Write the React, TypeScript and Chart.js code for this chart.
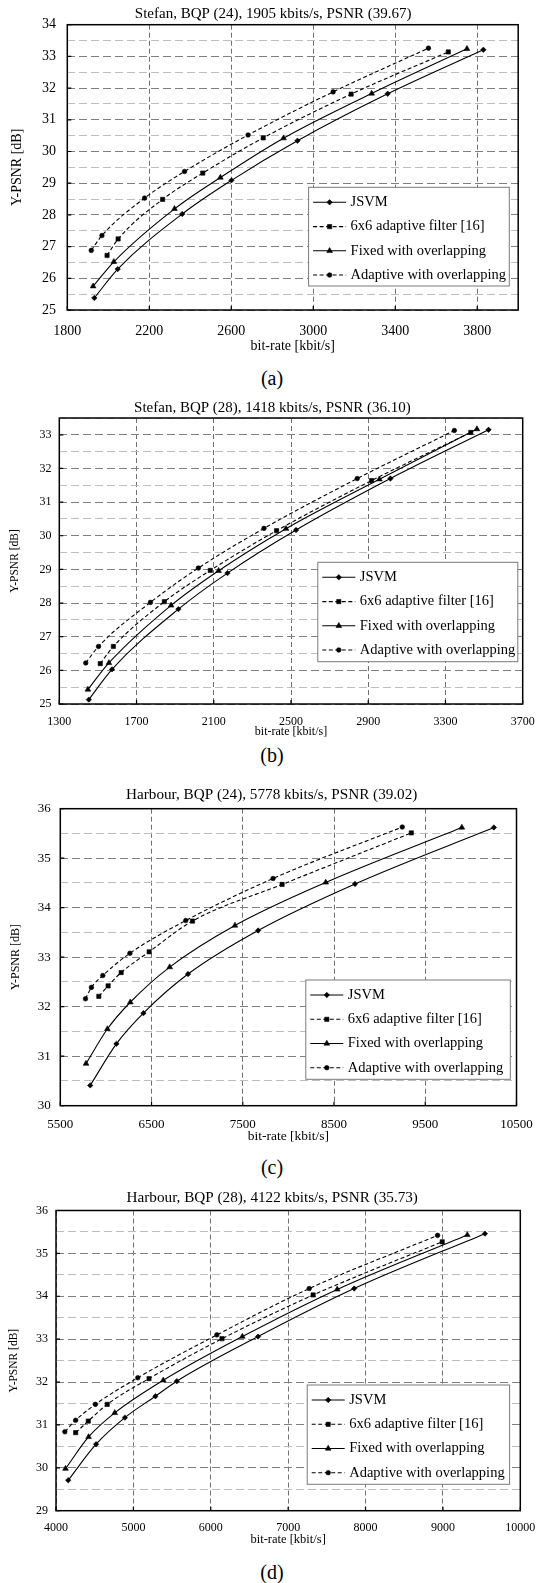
import React, { useEffect, useRef } from 'react';
import { Chart, registerables } from 'chart.js';

Chart.register(...registerables);

const SERIF = "'Liberation Serif', 'Times New Roman', Times, serif";
Chart.defaults.font.family = SERIF;
Chart.defaults.color = '#000';

const SERIES_NAMES = ['JSVM', '6x6 adaptive filter [16]', 'Fixed with overlapping', 'Adaptive with overlapping'];
const X_TITLE = 'bit-rate [kbit/s]';
const Y_TITLE = 'Y-PSNR [dB]';

// ---------- (a) Stefan, BQP 24 ----------
const A_TITLE = 'Stefan, BQP (24), 1905 kbits/s, PSNR (39.67)';
const A_X_TICKS = [1800, 2200, 2600, 3000, 3400, 3800];
const A_JSVM_RATE = [1932, 2046, 2361, 2601, 2923, 3363, 3830];
const A_JSVM_PSNR = [25.38, 26.29, 28.03, 29.09, 30.34, 31.82, 33.21];
const A_AF_RATE = [1994, 2048, 2265, 2461, 2756, 3185, 3659];
const A_AF_PSNR = [26.72, 27.24, 28.49, 29.32, 30.43, 31.81, 33.14];
const A_FO_RATE = [1926, 2027, 2323, 2547, 2855, 3285, 3750];
const A_FO_PSNR = [25.75, 26.52, 28.19, 29.18, 30.42, 31.83, 33.24];
const A_AO_RATE = [1917, 1969, 2177, 2372, 2682, 3097, 3562];
const A_AO_PSNR = [26.88, 27.35, 28.53, 29.37, 30.52, 31.88, 33.26];

// ---------- (b) Stefan, BQP 28 ----------
const B_TITLE = 'Stefan, BQP (28), 1418 kbits/s, PSNR (36.10)';
const B_X_TICKS = [1300, 1700, 2100, 2500, 2900, 3300, 3700];
const B_JSVM_RATE = [1453, 1573, 1917, 2171, 2526, 3015, 3523];
const B_JSVM_PSNR = [25.13, 26.03, 27.82, 28.89, 30.17, 31.7, 33.15];
const B_AF_RATE = [1512, 1580, 1844, 2082, 2425, 2917, 3431];
const B_AF_PSNR = [26.2, 26.71, 28.04, 28.97, 30.15, 31.64, 33.07];
const B_FO_RATE = [1448, 1557, 1879, 2125, 2474, 2958, 3463];
const B_FO_PSNR = [25.43, 26.22, 27.93, 28.96, 30.21, 31.68, 33.17];
const B_AO_RATE = [1437, 1503, 1772, 2020, 2360, 2843, 3346];
const B_AO_PSNR = [26.22, 26.71, 28.02, 29.04, 30.22, 31.7, 33.13];

// ---------- (c) Harbour, BQP 24 ----------
const C_TITLE = 'Harbour, BQP (24), 5778 kbits/s, PSNR (39.02)';
const C_X_TICKS = [5500, 6500, 7500, 8500, 9500, 10500];
const C_JSVM_RATE = [5828, 6115, 6411, 6900, 7668, 8730, 10252];
const C_JSVM_PSNR = [30.41, 31.25, 31.87, 32.66, 33.54, 34.48, 35.62];
const C_AF_RATE = [5922, 6024, 6167, 6474, 6949, 7931, 9347];
const C_AF_PSNR = [32.21, 32.42, 32.69, 33.11, 33.73, 34.47, 35.51];
const C_FO_RATE = [5782, 6016, 6267, 6699, 7414, 8409, 9901];
const C_FO_PSNR = [30.85, 31.55, 32.09, 32.8, 33.64, 34.51, 35.62];
const C_AO_RATE = [5776, 5841, 5966, 6263, 6875, 7832, 9248];
const C_AO_PSNR = [32.16, 32.39, 32.63, 33.08, 33.74, 34.59, 35.63];

// ---------- (d) Harbour, BQP 28 ----------
const D_TITLE = 'Harbour, BQP (28), 4122 kbits/s, PSNR (35.73)';
const D_X_TICKS = [4000, 5000, 6000, 7000, 8000, 9000, 10000];
const D_JSVM_RATE = [4158, 4518, 4890, 5285, 5561, 6611, 7853, 9543];
const D_JSVM_PSNR = [29.71, 30.55, 31.17, 31.67, 32.02, 33.06, 34.18, 35.46];
const D_AF_RATE = [4254, 4417, 4662, 5202, 6145, 7323, 8991];
const D_AF_PSNR = [30.82, 31.09, 31.48, 32.08, 33.01, 34.03, 35.27];
const D_FO_RATE = [4123, 4421, 4759, 5386, 6408, 7634, 9315];
const D_FO_PSNR = [29.98, 30.72, 31.28, 32.04, 33.06, 34.16, 35.43];
const D_AO_RATE = [4114, 4254, 4509, 5057, 6079, 7272, 8931];
const D_AO_PSNR = [30.84, 31.11, 31.48, 32.1, 33.1, 34.18, 35.42];

const STYLES = [
  { pointStyle: 'rectRot', radius: 2.7, dash: [] as number[] },
  { pointStyle: 'rect', radius: 3, dash: [4, 2.5] },
  { pointStyle: 'triangle', radius: 3.3, dash: [] as number[] },
  { pointStyle: 'circle', radius: 2.3, dash: [4, 2.5] },
];

const LEGEND_ROWS = [15, 39.3, 63.5, 87.7];
const LEGEND_SAMPLE = [4.5, 37.5];
const LEGEND_TEXT_X = 42;
const PAGE_W = 537;

function drawMarker(ctx: CanvasRenderingContext2D, style: string, x: number, y: number, r: number) {
  ctx.beginPath();
  if (style === 'circle') {
    ctx.arc(x, y, r, 0, Math.PI * 2);
  } else if (style === 'rect') {
    const s = r * Math.SQRT1_2;
    ctx.rect(x - s, y - s, 2 * s, 2 * s);
  } else if (style === 'rectRot') {
    ctx.moveTo(x, y - r);
    ctx.lineTo(x + r, y);
    ctx.lineTo(x, y + r);
    ctx.lineTo(x - r, y);
    ctx.closePath();
  } else {
    const a = (2 * Math.PI) / 3;
    ctx.moveTo(x, y - r);
    ctx.lineTo(x + r * Math.sin(a), y - r * Math.cos(a));
    ctx.lineTo(x + r * Math.sin(2 * a), y - r * Math.cos(2 * a));
    ctx.closePath();
  }
  ctx.fill();
  ctx.stroke();
}

const framePlugin = {
  id: 'frame',
  beforeDatasetsDraw(chart: any, _args: any, opts: any) {
    const { ctx, chartArea: a, scales } = chart;
    ctx.save();
    ctx.setLineDash([]);
    ctx.strokeStyle = '#000';
    ctx.lineWidth = 1.2;
    ctx.beginPath();
    for (const v of opts.xTicks as number[]) {
      const px = scales.x.getPixelForValue(v);
      ctx.moveTo(px, a.bottom);
      ctx.lineTo(px, a.bottom - 4);
    }
    for (const t of scales.y.ticks) {
      if (Number.isInteger(t.value)) {
        const py = scales.y.getPixelForValue(t.value);
        ctx.moveTo(a.left, py);
        ctx.lineTo(a.left + 4, py);
      }
    }
    ctx.stroke();
    ctx.lineWidth = 1.5;
    ctx.strokeRect(a.left, a.top, a.right - a.left, a.bottom - a.top);
    ctx.restore();
  },
};

const legendBoxPlugin = {
  id: 'legendBox',
  afterDatasetsDraw(chart: any, _args: any, o: any) {
    const ctx: CanvasRenderingContext2D = chart.ctx;
    ctx.save();
    ctx.setLineDash([]);
    ctx.fillStyle = '#fff';
    ctx.fillRect(o.x, o.y, o.w, o.h);
    ctx.strokeStyle = '#7a7a7a';
    ctx.lineWidth = 1;
    ctx.strokeRect(o.x, o.y, o.w, o.h);
    chart.data.datasets.forEach((ds: any, i: number) => {
      const y = o.y + LEGEND_ROWS[i];
      ctx.strokeStyle = '#000';
      ctx.lineWidth = ds.borderWidth;
      ctx.setLineDash(ds.borderDash || []);
      ctx.beginPath();
      ctx.moveTo(o.x + LEGEND_SAMPLE[0], y);
      ctx.lineTo(o.x + LEGEND_SAMPLE[1], y);
      ctx.stroke();
      ctx.setLineDash([]);
      ctx.fillStyle = '#000';
      ctx.lineWidth = ds.pointBorderWidth;
      drawMarker(ctx, ds.pointStyle, o.x + (LEGEND_SAMPLE[0] + LEGEND_SAMPLE[1]) / 2, y, ds.pointRadius);
      ctx.font = `${o.font}px ${SERIF}`;
      ctx.textAlign = 'left';
      ctx.textBaseline = 'middle';
      ctx.fillText(ds.label, o.x + LEGEND_TEXT_X, y);
    });
    ctx.restore();
  },
};

type Layout = {
  canvasTop: number; chartTop: number; chartBottom: number; chartLeft: number; chartRight: number;
  titleCenterY: number; titleFont: number; padL: number;
  yTitleFont: number; yTitlePad: number; yTickFont: number; yTickLen: number;
  xTickFont: number; xTickLen: number; xTitleFont: number; xTitleCenterY: number;
  legend: { x: number; y: number; w: number; h: number };
  captionY: number;
};

type Spec = {
  title: string; caption: string;
  rates: number[][]; psnrs: number[][];
  xMin: number; xMax: number; xTicks: number[];
  yMin: number; yMax: number;
  L: Layout;
};

const SPECS: Spec[] = [
  {
    title: A_TITLE, caption: '(a)',
    rates: [A_JSVM_RATE, A_AF_RATE, A_FO_RATE, A_AO_RATE],
    psnrs: [A_JSVM_PSNR, A_AF_PSNR, A_FO_PSNR, A_AO_PSNR],
    xMin: 1800, xMax: 4000, xTicks: A_X_TICKS, yMin: 25, yMax: 34,
    L: {
      canvasTop: 0, chartTop: 24.7, chartBottom: 310, chartLeft: 67.3, chartRight: 518.2,
      titleCenterY: 14.5, titleFont: 15, padL: 9.3,
      yTitleFont: 14, yTitlePad: 0, yTickFont: 14, yTickLen: 11.3,
      xTickFont: 14, xTickLen: 13.3, xTitleFont: 14, xTitleCenterY: 346,
      legend: { x: 308.6, y: 187.3, w: 200.7, h: 98.7 }, captionY: 378,
    },
  },
  {
    title: B_TITLE, caption: '(b)',
    rates: [B_JSVM_RATE, B_AF_RATE, B_FO_RATE, B_AO_RATE],
    psnrs: [B_JSVM_PSNR, B_AF_PSNR, B_FO_PSNR, B_AO_PSNR],
    xMin: 1300, xMax: 3700, xTicks: B_X_TICKS, yMin: 25, yMax: 33.5,
    L: {
      canvasTop: 393, chartTop: 418, chartBottom: 704, chartLeft: 59.3, chartRight: 522.7,
      titleCenterY: 408.3, titleFont: 15, padL: 7.8,
      yTitleFont: 11.5, yTitlePad: 0.7, yTickFont: 12, yTickLen: 7.9,
      xTickFont: 12, xTickLen: 10.5, xTitleFont: 12, xTitleCenterY: 731.7,
      legend: { x: 317.8, y: 169.3, w: 200, h: 99.4 }, captionY: 755,
    },
  },
  {
    title: C_TITLE, caption: '(c)',
    rates: [C_JSVM_RATE, C_AF_RATE, C_FO_RATE, C_AO_RATE],
    psnrs: [C_JSVM_PSNR, C_AF_PSNR, C_FO_PSNR, C_AO_PSNR],
    xMin: 5500, xMax: 10500, xTicks: C_X_TICKS, yMin: 30, yMax: 36,
    L: {
      canvasTop: 775, chartTop: 808.7, chartBottom: 1105.7, chartLeft: 60.3, chartRight: 516.5,
      titleCenterY: 795, titleFont: 15.2, padL: 6.4,
      yTitleFont: 12, yTitlePad: 1.8, yTickFont: 13, yTickLen: 9.6,
      xTickFont: 13, xTickLen: 11.5, xTitleFont: 13.5, xTitleCenterY: 1136.7,
      legend: { x: 305.8, y: 205, w: 204.5, h: 99.3 }, captionY: 1166.7,
    },
  },
  {
    title: D_TITLE, caption: '(d)',
    rates: [D_JSVM_RATE, D_AF_RATE, D_FO_RATE, D_AO_RATE],
    psnrs: [D_JSVM_PSNR, D_AF_PSNR, D_FO_PSNR, D_AO_PSNR],
    xMin: 4000, xMax: 10000, xTicks: D_X_TICKS, yMin: 29, yMax: 36,
    L: {
      canvasTop: 1180, chartTop: 1210.5, chartBottom: 1510.7, chartLeft: 56, chartRight: 520.3,
      titleCenterY: 1198.3, titleFont: 15.2, padL: 7.5,
      yTitleFont: 11.5, yTitlePad: 0, yTickFont: 12, yTickLen: 8,
      xTickFont: 12, xTickLen: 10.4, xTitleFont: 12.5, xTitleCenterY: 1540,
      legend: { x: 307.2, y: 205, w: 202.4, h: 99.3 }, captionY: 1571.7,
    },
  },
];

function geometry(L: Layout) {
  const lhT = L.titleFont * 1.2;
  const pt = L.titleCenterY - L.canvasTop - lhT / 2;
  const pb = L.chartTop - L.canvasTop - pt - lhT;
  const xAxisH = L.xTitleCenterY + (L.xTitleFont * 1.2) / 2 - L.chartBottom;
  const H = Math.ceil(L.chartBottom + xAxisH - L.canvasTop);
  const padB = L.canvasTop + H - (L.chartBottom + xAxisH);
  return { pt, pb, xAxisH, H, padB };
}

function buildConfig(s: Spec): any {
  const L = s.L;
  const g = geometry(L);
  return {
    type: 'scatter',
    data: {
      datasets: SERIES_NAMES.map((name, i) => ({
        label: name,
        data: s.rates[i].map((x, k) => ({ x, y: s.psnrs[i][k] })),
        showLine: true,
        xAxisID: 'x',
        yAxisID: 'y',
        borderColor: '#000',
        backgroundColor: '#000',
        borderWidth: 1.1,
        borderDash: STYLES[i].dash,
        pointStyle: STYLES[i].pointStyle,
        pointRadius: STYLES[i].radius,
        pointHoverRadius: STYLES[i].radius,
        pointBackgroundColor: '#000',
        pointBorderColor: '#000',
        pointBorderWidth: 0.6,
        cubicInterpolationMode: 'monotone',
      })),
    },
    options: {
      responsive: false,
      animation: false,
      events: [],
      layout: { padding: { left: L.padL, right: 0, top: 0, bottom: g.padB } },
      plugins: {
        legend: { display: false },
        tooltip: { enabled: false },
        title: {
          display: true,
          text: s.title,
          color: '#000',
          font: { family: SERIF, size: L.titleFont, weight: 'normal', lineHeight: 1.2 },
          padding: { top: g.pt, bottom: g.pb },
        },
        frame: { xTicks: s.xTicks },
        legendBox: { x: L.legend.x, y: L.legend.y, w: L.legend.w, h: L.legend.h, font: 14.5 },
      },
      scales: {
        x: {
          type: 'linear',
          position: 'bottom',
          min: s.xMin,
          max: s.xMax,
          afterBuildTicks: (sc: any) => {
            sc.ticks = s.xTicks.map((v) => ({ value: v }));
          },
          afterFit: (sc: any) => {
            sc.height = g.xAxisH;
          },
          ticks: {
            autoSkip: false,
            maxRotation: 0,
            minRotation: 0,
            padding: 0,
            color: '#000',
            font: { family: SERIF, size: L.xTickFont, lineHeight: 1.2 },
            callback: (v: any) => String(v),
          },
          grid: {
            color: '#707070',
            lineWidth: 1,
            drawTicks: true,
            tickLength: L.xTickLen,
            tickColor: 'rgba(0,0,0,0)',
          },
          border: { display: false, dash: [5, 3] },
          title: {
            display: true,
            text: X_TITLE,
            color: '#000',
            font: { family: SERIF, size: L.xTitleFont, lineHeight: 1.2 },
            padding: { top: 0, bottom: 0 },
          },
        },
        y: {
          type: 'linear',
          position: 'left',
          min: s.yMin,
          max: s.yMax,
          afterFit: (sc: any) => {
            sc.width = L.chartLeft - L.padL;
          },
          ticks: {
            stepSize: 0.5,
            autoSkip: false,
            padding: 0,
            color: '#000',
            font: { family: SERIF, size: L.yTickFont, lineHeight: 1.2 },
            callback: (v: any) => (Number.isInteger(v) ? String(v) : ''),
          },
          grid: {
            color: (c: any) => (c.tick && Number.isInteger(c.tick.value) ? '#808080' : '#bdbdbd'),
            lineWidth: 1,
            drawTicks: true,
            tickLength: L.yTickLen,
            tickColor: 'rgba(0,0,0,0)',
          },
          border: { display: false, dash: [8, 4] },
          title: {
            display: true,
            text: Y_TITLE,
            color: '#000',
            font: { family: SERIF, size: L.yTitleFont, lineHeight: 1.2 },
            padding: { top: L.yTitlePad, bottom: 0 },
          },
        },
        yR: {
          type: 'linear',
          axis: 'y',
          position: 'right',
          display: true,
          grid: { display: false, drawTicks: false },
          ticks: { display: false },
          border: { display: false },
          title: { display: false },
          afterFit: (sc: any) => {
            sc.width = PAGE_W - L.chartRight;
          },
        },
      },
    },
    plugins: [framePlugin, legendBoxPlugin],
  };
}

function Panel({ spec }: { spec: Spec }) {
  const ref = useRef<HTMLCanvasElement | null>(null);
  const { H } = geometry(spec.L);
  useEffect(() => {
    if (!ref.current) return;
    const chart = new Chart(ref.current, buildConfig(spec));
    return () => chart.destroy();
  }, [spec]);
  return (
    <>
      <canvas
        ref={ref}
        width={PAGE_W}
        height={H}
        style={{ position: 'absolute', left: 0, top: spec.L.canvasTop, width: PAGE_W, height: H, display: 'block' }}
      />
      <div
        style={{
          position: 'absolute',
          left: 0,
          width: 544,
          top: spec.L.captionY - 12,
          height: 24,
          lineHeight: '24px',
          textAlign: 'center',
          fontFamily: SERIF,
          fontSize: 20,
          color: '#000',
        }}
      >
        {spec.caption}
      </div>
    </>
  );
}

export default function App() {
  return (
    <div
      style={{
        position: 'absolute',
        left: 0,
        top: 0,
        width: PAGE_W,
        height: 1583,
        overflow: 'hidden',
        background: '#fff',
      }}
    >
      {SPECS.map((s) => (
        <Panel key={s.caption} spec={s} />
      ))}
    </div>
  );
}
